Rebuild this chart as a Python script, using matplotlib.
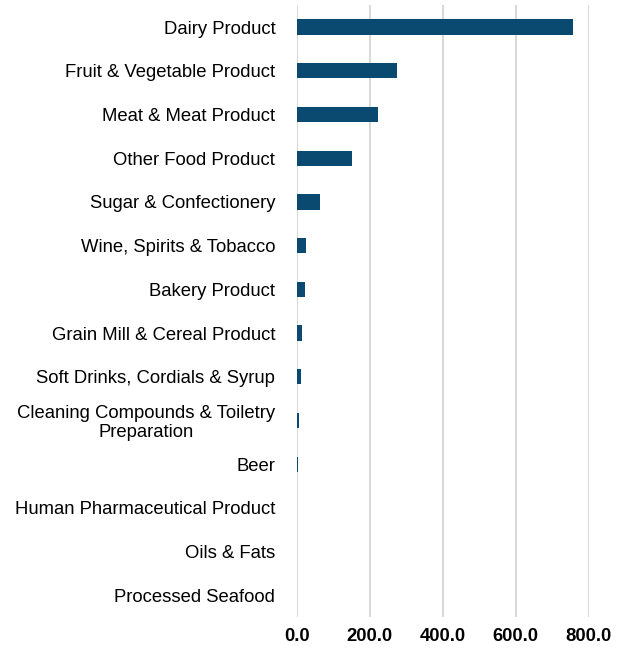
import matplotlib
matplotlib.use("Agg")
import matplotlib.pyplot as plt

categories = [
    "Dairy Product",
    "Fruit & Vegetable Product",
    "Meat & Meat Product",
    "Other Food Product",
    "Sugar & Confectionery",
    "Wine, Spirits & Tobacco",
    "Bakery Product",
    "Grain Mill & Cereal Product",
    "Soft Drinks, Cordials & Syrup",
    "Cleaning Compounds & Toiletry\nPreparation",
    "Beer",
    "Human Pharmaceutical Product",
    "Oils & Fats",
    "Processed Seafood",
]
values = [757, 274, 222, 152, 62, 26, 23, 14, 10, 6, 3, 1, 0.5, 0.3]
xticks = [0, 200, 400, 600, 800]
xticklabels = ["0.0", "200.0", "400.0", "600.0", "800.0"]

plt.rcParams["font.family"] = ["Liberation Sans", "DejaVu Sans"]

fig = plt.figure(figsize=(6.29, 6.51), dpi=100)
ax = fig.add_axes([0.472, 0.052, 0.464, 0.940])

y = list(range(len(categories)))
ax.barh(y, values, height=0.35, color="#0B4A70", zorder=3)
ax.set_ylim(len(categories) - 0.5, -0.5)
ax.set_xlim(0, 800)
ax.set_xticks(xticks)
ax.set_xticklabels(xticklabels, fontsize=13.3, fontweight="bold")
ax.set_yticks(y)
ax.set_yticklabels(categories, fontsize=13.3, multialignment="center", linespacing=1.1)
ax.tick_params(axis="y", length=0, pad=15.5)
ax.tick_params(axis="x", length=0, pad=8)
for s in ax.spines.values():
    s.set_visible(False)
ax.grid(axis="x", color="#D9D9D9", linewidth=1.5, zorder=0)
ax.set_axisbelow(True)

fig.savefig("out.png", dpi=100)
